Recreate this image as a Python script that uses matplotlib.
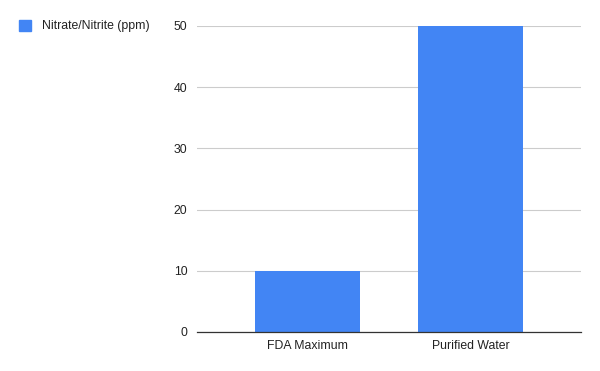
import numpy as np
import matplotlib.pyplot as plt
from matplotlib.patches import Rectangle

plt.rcParams['font.family'] = ['Liberation Sans', 'DejaVu Sans']

categories = ["FDA Maximum", "Purified Water"]
values = [10, 50]
series_name = "Nitrate/Nitrite (ppm)"
yticks = [0, 10, 20, 30, 40, 50]

blue = "#4285f4"
fs = 8.8

fig = plt.figure(figsize=(6, 3.71), dpi=100)
ax = fig.add_axes([197 / 600, 1 - 332 / 371, 384 / 600, 306 / 371])

x = np.arange(len(categories))
ax.bar(x, values, width=0.644, color=blue, zorder=3)

ax.set_xlim(-0.678, 1.678)
ax.set_ylim(0, 50)
ax.set_yticks(yticks)
ax.set_yticklabels([str(t) for t in yticks], fontsize=fs, color="#222222")
ax.set_xticks(x)
ax.set_xticklabels(categories, fontsize=fs, color="#222222")
ax.tick_params(axis="both", length=0, pad=6)
ax.tick_params(axis="y", pad=7)

ax.grid(axis="y", color="#cccccc", linewidth=0.8, zorder=0)
for s in ["top", "right", "left"]:
    ax.spines[s].set_visible(False)
ax.spines["bottom"].set_color("#333333")
ax.spines["bottom"].set_linewidth(0.9)
ax.spines["bottom"].set_zorder(4)

# legend, top left
fig.patches.append(Rectangle((19 / 600, 1 - 31 / 371), 12 / 600, 11 / 371,
                             transform=fig.transFigure, color=blue))
fig.text(42 / 600, 1 - 26 / 371, series_name, fontsize=fs, color="#222222",
         va="center", ha="left")

fig.savefig("out.png", dpi=100)
